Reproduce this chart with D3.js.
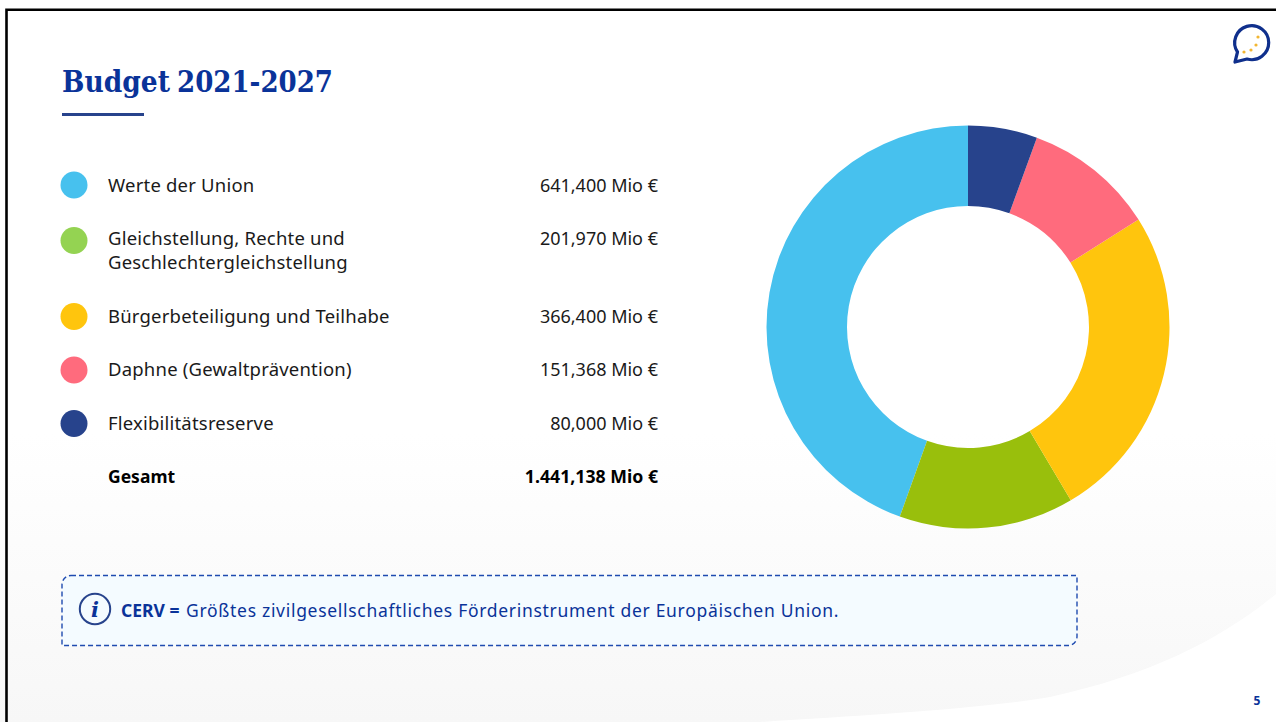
<!DOCTYPE html>
<html>
<head>
<meta charset="utf-8">
<script src="https://cdn.jsdelivr.net/npm/d3@7"></script>
<style>
  html, body { margin: 0; padding: 0; background: #fff; overflow: hidden; }
  text { font-family: "Noto Sans", sans-serif; }
</style>
</head>
<body>
<div id="slide"></div>
<script>
var categories = ["Werte der Union", "Gleichstellung, Rechte und|Geschlechtergleichstellung", "Bürgerbeteiligung und Teilhabe", "Daphne (Gewaltprävention)", "Flexibilitätsreserve"];
var values = [641.4, 201.97, 366.4, 151.368, 80];
var valueLabels = ["641,400 Mio €", "201,970 Mio €", "366,400 Mio €", "151,368 Mio €", "80,000 Mio €"];
var legendColors = ["#47C1EE", "#94D352", "#FFC50D", "#FF6B7D", "#27438C"];
var sliceColors = ["#47C1EE", "#99BF0C", "#FFC50D", "#FF6B7D", "#27438C"];
var totalLabel = "Gesamt";
var totalValue = "1.441,138 Mio €";

var width = 1276, height = 722;

var svg = d3.select("#slide").append("svg")
	.attr("width", width)
	.attr("height", height)
	.style("display", "block");

// background
var defs = svg.append("defs");
var grad = defs.append("linearGradient")
	.attr("id", "bg").attr("x1", 0).attr("y1", 0).attr("x2", 0).attr("y2", 1);
grad.append("stop").attr("offset", "0.6").attr("stop-color", "#ffffff");
grad.append("stop").attr("offset", "1").attr("stop-color", "#f7f7f7");

svg.append("rect").attr("width", width).attr("height", height).attr("fill", "url(#bg)");
svg.append("path")
	.attr("d", "M1276,594 C1220,640 1150,675 1050,697 C990,708 860,716 760,722 L1276,722 Z")
	.attr("fill", "#fff");

// frame
svg.append("path")
	.attr("d", "M6.5,722 V9.7 H1276")
	.attr("fill", "none").attr("stroke", "#000").attr("stroke-width", 2.6);

// title
function titlePart(x, w, str) {
	svg.append("text")
		.attr("x", x).attr("y", 92)
		.attr("fill", "#0A3399")
		.style("font-family", "'DejaVu Serif', serif")
		.style("font-weight", 700)
		.style("font-size", "29px")
		.attr("textLength", w)
		.attr("lengthAdjust", "spacingAndGlyphs")
		.text(str);
}
titlePart(62, 108, "Budget");
titlePart(177, 156, "2021-2027");

svg.append("rect")
	.attr("x", 62).attr("y", 113).attr("width", 82).attr("height", 3)
	.attr("fill", "#27438C");

// legend table
var rowGap = 53.5, lineGap = 24;
var y = 185;
var rows = categories.map(function(c, i) {
	var lines = c.split("|");
	var row = {lines: lines, y: y, color: legendColors[i], label: valueLabels[i]};
	y += rowGap + (lines.length - 1) * lineGap;
	return row;
});

var legend = svg.append("g");
var row = legend.selectAll("g.row")
	.data(rows)
  .enter().append("g")
	.attr("class", "row")
	.attr("transform", function(d) { return "translate(0," + d.y + ")"; });

row.append("circle")
	.attr("cx", 74)
	.attr("cy", function(d) { return (d.lines.length - 1) * 2 + (d.y > 300 ? 0.5 : 0); })
	.attr("r", 13.5)
	.attr("fill", function(d) { return d.color; });

row.each(function(d) {
	var g = d3.select(this);
	d.lines.forEach(function(line, i) {
		g.append("text")
			.attr("x", 108).attr("y", 6.5 + i * lineGap)
			.attr("fill", "#1a1a1a")
			.style("font-size", "18.5px")
			.style("letter-spacing", "0.2px")
			.text(line);
	});
});

row.append("text")
	.attr("x", 658).attr("y", 6.5)
	.attr("text-anchor", "end")
	.attr("fill", "#1a1a1a")
	.style("font-size", "18px")
	.text(function(d) { return d.label; });

legend.append("text")
	.attr("x", 108).attr("y", y + 6.5)
	.attr("fill", "#000")
	.style("font-size", "17.5px").style("font-weight", 700)
	.text(totalLabel);

legend.append("text")
	.attr("x", 658).attr("y", y + 6.5)
	.attr("text-anchor", "end")
	.attr("fill", "#000")
	.style("font-size", "17.7px").style("font-weight", 700)
	.text(totalValue);

// donut, runs counter clockwise from 12 o'clock
var pie = d3.pie().sort(null).startAngle(2 * Math.PI).endAngle(0);
var arc = d3.arc().innerRadius(121).outerRadius(201.5);

svg.append("g")
	.attr("transform", "translate(968,327)")
	.selectAll("path")
	.data(pie(values))
  .enter().append("path")
	.attr("d", arc)
	.attr("fill", function(d, i) { return sliceColors[i]; });

// info box, only top left and bottom right corners are round
var bx = 62, by = 575.5, bw = 1015, bh = 70, br = 9;
svg.append("path")
	.attr("d", "M" + (bx + br) + "," + by + " H" + (bx + bw) + " V" + (by + bh - br)
		+ " A" + br + "," + br + " 0 0 1 " + (bx + bw - br) + "," + (by + bh)
		+ " H" + bx + " V" + (by + br)
		+ " A" + br + "," + br + " 0 0 1 " + (bx + br) + "," + by + " Z")
	.attr("fill", "#F4FBFF")
	.attr("stroke", "#1F4BB0").attr("stroke-width", 1.4).attr("stroke-dasharray", "5 3");

var info = svg.append("g").attr("transform", "translate(95,609)");
info.append("circle").attr("r", 15.2).attr("fill", "none").attr("stroke", "#27438C").attr("stroke-width", 2);
info.append("text")
	.attr("text-anchor", "middle").attr("y", 7.5)
	.attr("fill", "#0A3399")
	.style("font-family", "'DejaVu Serif', serif")
	.style("font-style", "italic").style("font-weight", 700).style("font-size", "21px")
	.text("i");

var note = svg.append("text")
	.attr("x", 121).attr("y", 616.5)
	.attr("fill", "#0A3399")
	.style("font-size", "17.5px");
note.append("tspan").style("font-weight", 700).text("CERV = ");
note.append("tspan").attr("dx", 2).style("letter-spacing", "0.7px")
	.text("Größtes zivilgesellschaftliches Förderinstrument der Europäischen Union.");

// page number
svg.append("text")
	.attr("x", 1257).attr("y", 705)
	.attr("text-anchor", "middle")
	.attr("fill", "#0A3399")
	.style("font-size", "12px").style("font-weight", 700)
	.text("5");

// logo bubble
var logo = svg.append("g").attr("transform", "translate(1252,43)");
logo.append("path")
	.attr("d", "M-17,19 L-14.5,9 A17,17 0 1 1 -5,16 Z")
	.attr("fill", "#fff").attr("stroke", "#0F2F8C").attr("stroke-width", 3.2).attr("stroke-linejoin", "round");
logo.selectAll("circle")
	.data([[-8, 9], [-1, 7], [4, 2], [6, -6]])
  .enter().append("circle")
	.attr("cx", function(d) { return d[0]; })
	.attr("cy", function(d) { return d[1]; })
	.attr("r", 1.6)
	.attr("fill", "#F2B632");
</script>
</body>
</html>
